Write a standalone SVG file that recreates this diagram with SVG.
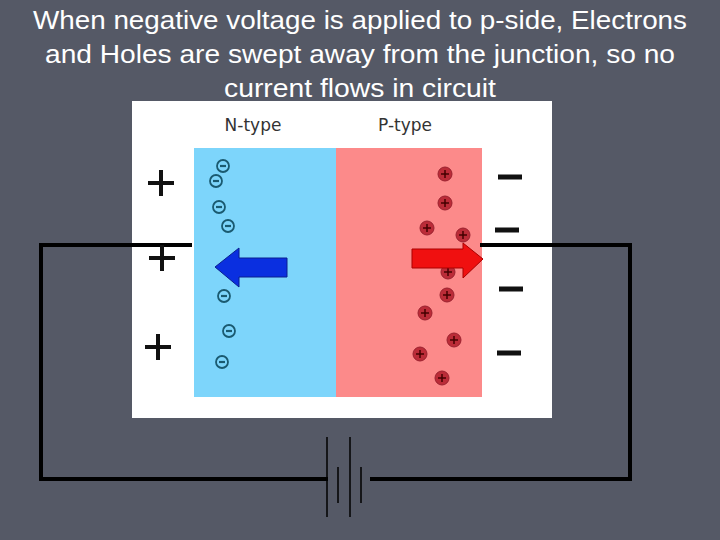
<svg xmlns="http://www.w3.org/2000/svg" width="720" height="540" viewBox="0 0 720 540">
<defs>
<style>
.t{font-family:"Liberation Sans",Arial,sans-serif;font-size:25px;fill:#fff;text-anchor:middle}
.lbl{font-family:"DejaVu Sans",sans-serif;font-size:17px;fill:#333;text-anchor:middle}
.e{fill:none;stroke:#1a5a70;stroke-width:1.8}
.h{fill:#b01c2a;stroke:#8a1020;stroke-width:1;opacity:.85}
.sg{stroke:#111;stroke-width:4}
.w{stroke:#000;stroke-width:4;fill:none}
.b{stroke:#000;stroke-width:1.5}
</style>
<g id="el"><circle r="6" class="e"/><line x1="-3" x2="3" y1="0" y2="0" stroke="#1a5a70" stroke-width="2.2"/></g>
<g id="ho"><circle r="7" class="h"/><line x1="-4" x2="4" stroke="#400" stroke-width="1.5"/><line y1="-4" y2="4" stroke="#400" stroke-width="1.5"/></g>
</defs>
<rect width="720" height="540" fill="#555966"/>
<g id="title">
<text class="t" x="360" y="29" textLength="654" lengthAdjust="spacingAndGlyphs">When negative voltage is applied to p-side, Electrons</text>
<text class="t" x="360" y="63" textLength="630" lengthAdjust="spacingAndGlyphs">and Holes are swept away from the junction, so no</text>
<text class="t" x="360" y="97" textLength="272" lengthAdjust="spacingAndGlyphs">current flows in circuit</text>
</g>
<g id="connectors">
<polyline class="w" points="192,245 41,245 41,479 328,479"/>
<polyline class="w" points="480,245 630,245 630,479 370,479"/>
</g>
<g id="battery">
<line class="b" x1="327" y1="437" x2="327" y2="517"/>
<line class="b" x1="338" y1="467" x2="338" y2="503"/>
<line class="b" x1="350" y1="437" x2="350" y2="517"/>
<line class="b" x1="361" y1="467" x2="361" y2="503"/>
</g>
<g id="diode">
<rect x="132" y="101" width="420" height="317" fill="#fff"/>
<rect x="194" y="148" width="142" height="249" fill="#7dd5fb"/>
<rect x="336" y="148" width="146" height="249" fill="#fc8a8a"/>
<line x1="132" y1="245" x2="192" y2="245" class="w"/>
<line x1="480" y1="245" x2="552" y2="245" class="w"/>
<text class="lbl" x="253" y="131">N-type</text>
<text class="lbl" x="405" y="131">P-type</text>
</g>
<g id="electrons">
<use href="#el" x="223" y="166"/><use href="#el" x="216" y="181"/><use href="#el" x="219" y="207"/><use href="#el" x="228" y="226"/>
<use href="#el" x="224" y="296"/><use href="#el" x="229" y="331"/><use href="#el" x="222" y="362"/>
</g>
<g id="holes">
<use href="#ho" x="445" y="174"/><use href="#ho" x="445" y="203"/><use href="#ho" x="427" y="228"/><use href="#ho" x="463" y="235"/>
<use href="#ho" x="448" y="272"/><use href="#ho" x="447" y="295"/><use href="#ho" x="425" y="313"/><use href="#ho" x="454" y="340"/>
<use href="#ho" x="420" y="354"/><use href="#ho" x="442" y="378"/>
</g>
<g id="arrows">
<polygon points="215,267 239,248 239,258 287,258 287,277 239,277 239,287" fill="#0a2fe0" stroke="#0a1f90" stroke-width="1"/>
<polygon points="412,249 463,249 463,243 483,259 463,278 463,268 412,268" fill="#f01010" stroke="#a00" stroke-width="1"/>
</g>
<g id="signs">
<path class="sg" d="M148,183h26M161,170v26M149,258h26M162,245v26M145,347h26M158,334v26"/>
<path stroke="#111" stroke-width="5" d="M498,177h24M495,230h24M499,289h24M497,353h24"/>
</g>
</svg>
